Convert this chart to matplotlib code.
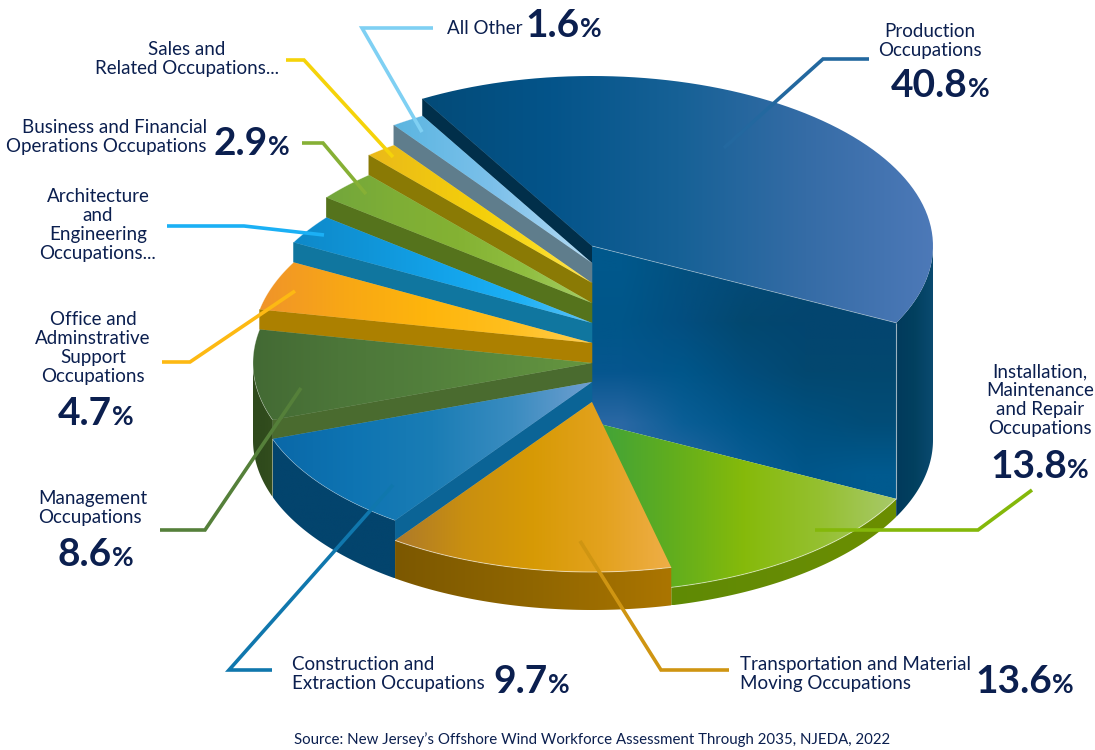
import numpy as np
import matplotlib
matplotlib.use("Agg")
import matplotlib.pyplot as plt
from matplotlib.colors import LinearSegmentedColormap, to_rgb
from matplotlib.patches import Polygon

# ---- data (clockwise from the top of the Production slice) ----
categories = ["Production", "Installation", "Transportation", "Construction", "Management",
              "Office", "Architecture", "Business", "Sales", "All Other"]
shares = [40.8, 13.8, 13.6, 9.7, 8.6, 4.7, 2.8, 2.9, 1.5, 1.6]

# ---- layout in pixels ----
W, H = 1095, 750
CX, RX_R, RX_L, RY = 592, 341, 339, 170
BASE_Y = 440
START = 120.0
apex_y = [246, 422, 402, 382, 363, 343, 323, 303, 283, 263]

top_colors = [
    ["#034b78", "#04548a", "#166196", "#356ca6", "#4d79b8"],
    ["#3ea23c", "#5fad1f", "#86ba0a", "#95c030", "#a8c96a"],
    ["#ad7a2a", "#c98f10", "#d79a05", "#e3a21e", "#efae48"],
    ["#0a68a8", "#0e74b2", "#1a7db5", "#3a8cc0", "#6f9fd0"],
    ["#436a34", "#4c7639", "#527f3c", "#5b8b3e", "#66963f"],
    ["#f0942a", "#f8a715", "#feb50c", "#ffbf1e", "#ffcd50"],
    ["#0e89c9", "#1095d8", "#13a3ea", "#1cb0f5", "#5fc2f5"],
    ["#72a63c", "#7eae36", "#84b233", "#90be40", "#a5cd66"],
    ["#eab91a", "#efc512", "#f4cf0a", "#f9da20", "#ffe45a"],
    ["#5bb5e0", "#6bbbe6", "#7cc0ea", "#98cef0", "#b5dcf5"],
]
side_colors = [
    ["#013a5c", "#02405f", "#0a4a70"], ["#5f8a04", "#668c05", "#6b8e00"],
    ["#7c5800", "#906600", "#ab7500"], ["#03446d", "#03446d", "#03446d"],
    ["#2f4a1c", "#2f4a1c", "#334e1e"], ["#ac8000"] * 3, ["#10769f"] * 3,
    ["#55731c"] * 3, ["#8a7a05"] * 3, ["#5f7d8c"] * 3,
]
wall_colors = ["#012f4a", None, None, "#0b6496", "#4a6b2f", "#ac8000",
               "#10769f", "#55731c", "#8a7a05", "#5f7d8c"]

# shading of Production's large front wall
front_wall = [["#00588c", "#03507f", "#034a78", "#03486f", "#034570"],
              ["#005689", "#034e80", "#03486f", "#034570", "#034570"],
              ["#06568f", "#00568a", "#024d7c", "#034870", "#03486f"],
              ["#2a68a4", "#0a5e96", "#00568a", "#00507f", "#024d78"],
              ["#2a68a4", "#2a68a4", "#0a5e96", "#00568a", "#005a8f"]]

# ---- labels ----
ink = "#0b1f4f"
leaders = [
    ([724, 823, 869], [148, 59, 59], "#23689f"),
    ([815, 978, 1032], [530, 530, 490], "#84b80a"),
    ([580, 661, 729], [541, 670, 670], "#cf9512"),
    ([393, 229, 272], [485, 670, 670], "#1077ad"),
    ([301, 205, 160], [388, 530, 530], "#55803a"),
    ([295, 190, 162], [291, 362, 362], "#fdb913"),
    ([324, 244, 167], [235, 226, 226], "#1bb0f5"),
    ([366, 323, 302], [194, 143, 143], "#86b035"),
    ([393, 304, 286], [157, 60, 60], "#f5d30a"),
    ([422, 362, 433], [132, 28, 28], "#7fd0f3"),
]
names = [
    ("Production\nOccupations", 930, 41, "center"),
    ("Installation,\nMaintenance\nand Repair\nOccupations", 1040, 400, "center"),
    ("Transportation and Material\nMoving Occupations", 740, 674, "left"),
    ("Construction and\nExtraction Occupations", 292, 674, "left"),
    ("Management\nOccupations", 38, 508, "left"),
    ("Office and\nAdminstrative\nSupport\nOccupations", 93, 348, "center"),
    ("Architecture\nand\nEngineering\nOccupations...", 98, 225, "center"),
    ("Business and Financial\nOperations Occupations", 207, 137, "right"),
    ("Sales and\nRelated Occupations...", 187, 59, "center"),
    ("All Other", 447, 29, "left"),
]
figures = [
    ("40.8", 968, 97), ("13.8", 1067, 478), ("13.6", 1052, 693), ("9.7", 548, 693),
    ("8.6", 112, 566), ("4.7", 112, 425), ("2.9", 268, 155), ("1.6", 580, 37),
]
source = "Source: New Jersey\u2019s Offshore Wind Workforce Assessment Through 2035, NJEDA, 2022"

plt.rcParams["font.family"] = ["Lato", "DejaVu Sans"]
fig = plt.figure(figsize=(W / 100, H / 100), dpi=100)
ax = fig.add_axes([0, 0, 1, 1])

z = [1]


def arc(a0, a1, cy, n=80):
    t = np.radians(np.linspace(a0, a1, n))
    c = np.cos(t)
    return np.column_stack([CX + np.where(c < 0, RX_L, RX_R) * c, cy - RY * np.sin(t)])


def paint(pts, rgb_grid, interp="bilinear"):
    pts = np.asarray(pts)
    x0, y0 = pts.min(axis=0)
    x1, y1 = pts.max(axis=0)
    z[0] += 1
    im = ax.imshow(rgb_grid, extent=(x0, x1, y1, y0), aspect="auto",
                   interpolation=interp, zorder=z[0])
    im.set_clip_path(Polygon(pts, closed=True, transform=ax.transData))


def hgrad(pts, colors):
    cm = LinearSegmentedColormap.from_list("g", colors)
    paint(pts, cm(np.linspace(0, 1, 256))[None, :, :3])


def edge(pts, lw=0.6, alpha=0.55):
    pts = np.asarray(pts)
    z[0] += 1
    ax.plot(pts[:, 0], pts[:, 1], color="white", lw=lw, alpha=alpha, zorder=z[0],
            solid_capstyle="butt")


def solid(pts, color):
    z[0] += 1
    ax.add_patch(Polygon(pts, closed=True, fc=color, ec=color, lw=0.4, zorder=z[0]))


bounds = [START]
for s in shares:
    bounds.append(bounds[-1] - s * 3.6)


def draw_outer(i):
    a0, a1 = bounds[i], bounds[i + 1]
    a0 = min(a0, 0.0)
    a1 = max(a1, -180.0)
    if a0 <= a1:
        return
    top = arc(a0, a1, apex_y[i])
    low = arc(a1, a0, BASE_Y)
    hgrad(np.vstack([top, low]), side_colors[i])


def draw_top(i):
    pts = np.vstack([[CX, apex_y[i]], arc(bounds[i], bounds[i + 1], apex_y[i])])
    hgrad(pts, top_colors[i])


def draw_start_wall(i, lower):
    p = arc(bounds[i], bounds[i], apex_y[i], 1)[0]
    dy = apex_y[lower] - apex_y[i]
    solid([[CX, apex_y[i]], p, [p[0], p[1] + dy], [CX, apex_y[i] + dy]], wall_colors[i])


order = [0, 9, 8, 7, 6, 5, 4, 3]
for i in order:
    lower = 9 if i == 0 else i - 1
    if i == 0:
        draw_outer(0)
    draw_start_wall(i, lower)
    if i == 0:
        draw_top(0)
        c = arc(bounds[1], bounds[1], apex_y[0], 1)[0]
        dy = apex_y[1] - apex_y[0]
        quad = [[CX, apex_y[0]], c, [c[0], c[1] + dy], [CX, apex_y[0] + dy]]
        grid = np.array([[to_rgb(c_) for c_ in row] for row in front_wall])
        paint(quad, grid)
        edge([[CX, apex_y[0]], c], 0.6, 0.4)
        edge([c, [c[0], c[1] + dy]], 0.8, 0.55)
    else:
        draw_outer(i)
        draw_top(i)
        edge(arc(bounds[i], bounds[i + 1], apex_y[i]), 0.5, 0.35)

for i in (1, 2):
    draw_outer(i)
    draw_top(i)
    edge(arc(bounds[i], bounds[i + 1], apex_y[i]), 0.7, 0.55)

ZT = 500
for xs, ys, col in leaders:
    ax.plot(xs, ys, color=col, lw=2.6, zorder=ZT, solid_joinstyle="miter", solid_capstyle="butt")

for txt, x, y, ha in names:
    ax.text(x, y, txt, ha=ha, va="center", color=ink, fontsize=13.5, linespacing=1.13,
            zorder=ZT + 1, multialignment=ha)
for txt, x, y in figures:
    ax.text(x, y, txt, ha="right", va="baseline", color=ink, fontsize=28, fontweight="bold",
            zorder=ZT + 1)
    ax.text(x, y, "%", ha="left", va="baseline", color=ink, fontsize=19, fontweight="bold",
            zorder=ZT + 1)
ax.text(592, 740, source, ha="center", va="center", color=ink, fontsize=10.8, zorder=ZT + 1)

ax.set_xlim(0, W)
ax.set_ylim(H, 0)
ax.axis("off")
fig.savefig("out.png", dpi=100, facecolor="white")
